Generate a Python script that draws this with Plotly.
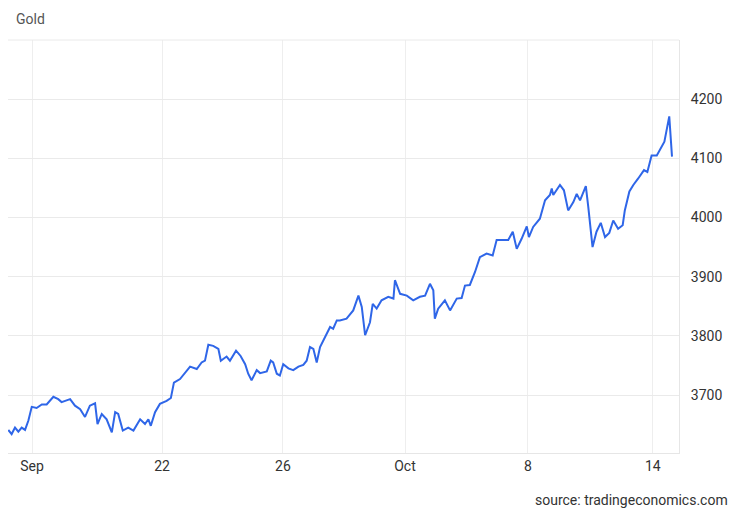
import plotly.graph_objects as go

# x in trading-day units (Sep tick = 0)
t1 = [-0.78,-0.67,-0.56,-0.45,-0.34,-0.23,-0.12,-0.01,0.15,0.32,
      0.48,0.70,0.86,0.97,1.25,1.41,1.58,1.74,1.90,2.07,
      2.15,2.29,2.45,2.62,2.73,2.83,2.98,3.16,3.33,3.55,
      3.71,3.82,3.90,4.04,4.20,4.42,4.56,4.66,4.86,5.02,
      5.19,5.41,5.57,5.68,5.79,5.95,6.12,6.20,6.39,6.50,
      6.70,6.85,7.00,7.10,7.21,7.38,7.49,7.71,7.84,7.92,
      8.04,8.14,8.25,8.42,8.58,8.75,8.91,9.02,9.13,9.24,
      9.35,9.46,9.62,9.79,9.89,10.01]
v1 = [3641,3634,3645,3638,3645,3641,3657,3680,3678,3684,
      3684,3697,3693,3688,3693,3682,3676,3663,3682,3686,
      3651,3668,3659,3637,3671,3668,3640,3645,3640,3659,
      3651,3659,3648,3671,3685,3690,3695,3721,3727,3738,
      3748,3744,3755,3758,3785,3783,3778,3758,3765,3758,
      3775,3766,3752,3736,3725,3742,3737,3740,3758,3755,
      3736,3733,3752,3745,3742,3748,3751,3758,3781,3778,
      3755,3781,3798,3815,3812,3826]
t2 = [10.11,10.33,10.55,10.72,10.83,10.94,11.10,11.19,11.32,11.48,
      11.70,11.87,11.92,12.09,12.31,12.52,12.74,12.91,13.07,13.18,
      13.23,13.34,13.56,13.73,13.95,14.11,14.22,14.38,14.55,14.71,
      14.93,15.13,15.26,15.48,15.64,15.79,15.92,16.08,16.25,16.32,
      16.46,16.68,16.85,17.01,17.07,17.12,17.34,17.47,17.61,17.78,
      17.89,18.00,18.19,18.27,18.41,18.54,18.68,18.82,18.96,19.09,
      19.25,19.40,19.47,19.62,19.75,19.91,20.10,20.21,20.35,20.52,
      20.66,20.77,20.93,21.02]
v2 = [3826,3829,3843,3868,3849,3801,3823,3854,3846,3860,
      3866,3863,3894,3871,3868,3860,3866,3868,3888,3877,
      3829,3846,3860,3843,3863,3864,3885,3886,3908,3933,
      3939,3936,3962,3962,3962,3976,3947,3964,3985,3967,
      3984,3998,4029,4038,4049,4038,4055,4046,4012,4026,
      4040,4029,4053,4018,3950,3976,3991,3967,3974,3995,
      3981,3987,4012,4044,4055,4066,4080,4077,4105,4105,
      4117,4128,4171,4103]

x_ticks = [0, 4.27, 8.24, 12.25, 16.29, 20.39]
x_labels = ["Sep", "22", "26", "Oct", "8", "14"]
y_ticks = [3700, 3800, 3900, 4000, 4100, 4200]

fig = go.Figure(go.Scatter(x=t1 + t2, y=v1 + v2, mode="lines",
                           line=dict(color="#2f66e8", width=2), hoverinfo="skip"))
fig.update_layout(
    width=732, height=505, plot_bgcolor="white", paper_bgcolor="white",
    margin=dict(l=0, r=61, t=32, b=60, autoexpand=False), showlegend=False,
    font=dict(family="Roboto, Arial, sans-serif", color="#333", size=14),
    xaxis=dict(range=[-0.79, 21.25], tickvals=x_ticks, ticktext=x_labels,
               showgrid=True, gridcolor="#eeeeee", zeroline=False, automargin=False,
               showline=True, linecolor="#e6e6e6", ticks=""),
    yaxis=dict(range=[3602, 4300], tickvals=y_ticks, side="right", automargin=False,
               showgrid=True, gridcolor="#eaeaea", zeroline=False,
               showline=True, linecolor="#e6e6e6", ticks="", ticklabelstandoff=8),
    shapes=[dict(type="line", xref="paper", yref="paper", x0=0, x1=1, y0=1, y1=1,
                 line=dict(color="#eaeaea", width=1))],
    annotations=[
        dict(text="Gold", xref="paper", yref="paper", x=0.009, y=1.051, xanchor="left",
             yanchor="middle", showarrow=False, font=dict(size=14, color="#555")),
        dict(text="source: tradingeconomics.com", xref="paper", yref="paper",
             x=1.076, y=-0.114, xanchor="right", yanchor="middle", showarrow=False,
             font=dict(size=14, color="#333")),
    ],
)
fig.write_html("out.html")
